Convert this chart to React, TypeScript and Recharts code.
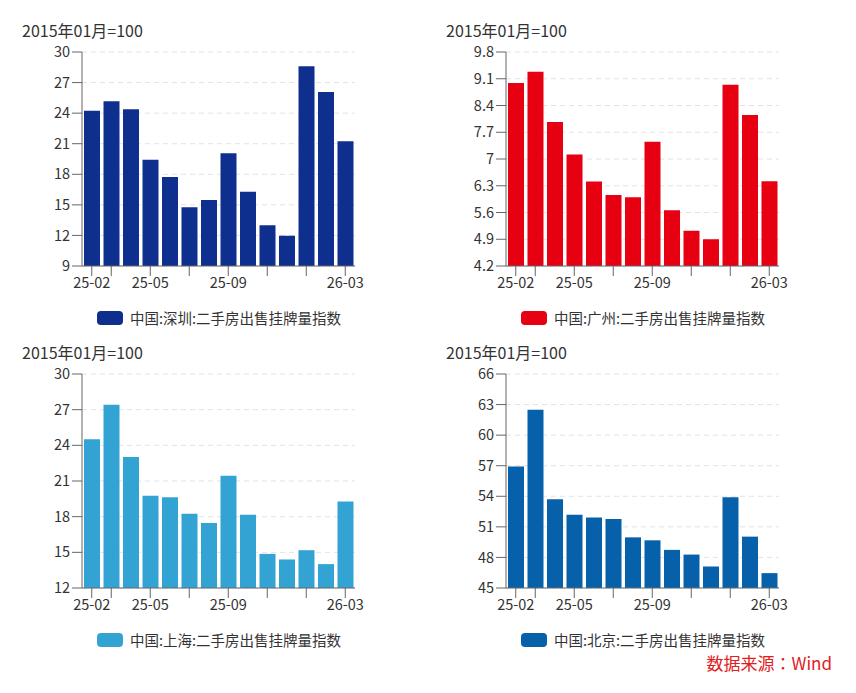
import React from 'react';
import { BarChart, Bar, XAxis, YAxis, CartesianGrid } from 'recharts';

const months = ['25-02', '25-03', '25-04', '25-05', '25-06', '25-07', '25-08', '25-09', '25-10', '25-11', '25-12', '26-01', '26-02', '26-03'];
const tickMonths = ['25-02', '25-03', '25-05', '25-07', '25-09', '25-11', '26-01', '26-03'];
const labelMonths = ['25-02', '25-05', '25-09', '26-03'];

const shenzhen = [24.24, 25.16, 24.37, 19.43, 17.73, 14.76, 15.48, 20.06, 16.29, 12.99, 11.98, 28.59, 26.07, 21.23];
const guangzhou = [8.99, 9.28, 7.97, 7.12, 6.41, 6.06, 6.0, 7.45, 5.66, 5.12, 4.9, 8.94, 8.15, 6.42];
const shanghai = [24.51, 27.41, 23.01, 19.75, 19.63, 18.24, 17.46, 21.45, 18.16, 14.87, 14.4, 15.18, 14.01, 19.27];
const beijing = [56.93, 62.49, 53.71, 52.18, 51.92, 51.76, 49.97, 49.68, 48.74, 48.28, 47.11, 53.91, 50.04, 46.46];

const szTicks = [9, 12, 15, 18, 21, 24, 27, 30];
const gzTicks = [4.2, 4.9, 5.6, 6.3, 7, 7.7, 8.4, 9.1, 9.8];
const shTicks = [12, 15, 18, 21, 24, 27, 30];
const bjTicks = [45, 48, 51, 54, 57, 60, 63, 66];

const titleText = '2015年01月=100';
const sourceText = '数据来源：Wind';

const FONT = "'Noto Sans CJK SC', 'Noto Sans', sans-serif";

const XTick = (props: any) => {
  const { x, y, payload } = props;
  if (!labelMonths.includes(payload.value)) return <g />;
  return (
    <text x={x} y={y} dy="0.71em" textAnchor="middle" fill="#333" fontSize={14.5} fontFamily={FONT}>
      {payload.value}
    </text>
  );
};

type PanelProps = {
  left: number;
  top: number;
  values: number[];
  ticks: number[];
  color: string;
  name: string;
};

const Panel = ({ left, top, values, ticks, color, name }: PanelProps) => {
  const data = months.map((m, i) => ({ month: m, value: values[i] }));
  return (
    <div style={{ position: 'absolute', left, top, width: 428, height: 322 }}>
      <div
        style={{
          position: 'absolute',
          left: 22,
          top: 20,
          fontSize: 16,
          lineHeight: '20px',
          color: '#333',
          fontFamily: FONT,
          whiteSpace: 'nowrap',
        }}
      >
        {titleText}
      </div>
      <BarChart
        width={428}
        height={322}
        data={data}
        margin={{ top: 52, right: 73, bottom: 26, left: 0 }}
      >
        <CartesianGrid vertical={false} stroke="#e3e3e3" strokeDasharray="5 4" />
        <XAxis
          dataKey="month"
          ticks={tickMonths}
          interval={0}
          height={30}
          tickSize={10}
          tickMargin={2}
          axisLine={{ stroke: '#666' }}
          tickLine={{ stroke: '#666' }}
          tick={<XTick />}
        />
        <YAxis
          domain={[ticks[0], ticks[ticks.length - 1]]}
          ticks={ticks}
          interval={0}
          width={82}
          tickSize={10}
          tickMargin={2}
          allowDataOverflow
          axisLine={{ stroke: '#666' }}
          tickLine={{ stroke: '#666' }}
          tick={{ fill: '#333', fontSize: 14.5, fontFamily: FONT }}
        />
        <Bar dataKey="value" fill={color} barSize={16} isAnimationActive={false} />
      </BarChart>
      <div
        style={{
          position: 'absolute',
          left: 97,
          top: 307,
          display: 'flex',
          alignItems: 'center',
          fontFamily: FONT,
          fontSize: 14.5,
          color: '#333',
          whiteSpace: 'nowrap',
        }}
      >
        <div style={{ width: 26, height: 14, borderRadius: 4, background: color, marginRight: 7 }} />
        <span>{name}</span>
      </div>
    </div>
  );
};

export default function App() {
  return (
    <div style={{ position: 'absolute', left: 0, top: 0, width: 856, height: 693, background: '#fff' }}>
      <Panel left={0} top={0} values={shenzhen} ticks={szTicks} color="#0e2f8e" name="中国:深圳:二手房出售挂牌量指数" />
      <Panel left={424} top={0} values={guangzhou} ticks={gzTicks} color="#e60012" name="中国:广州:二手房出售挂牌量指数" />
      <Panel left={0} top={322} values={shanghai} ticks={shTicks} color="#33a3d3" name="中国:上海:二手房出售挂牌量指数" />
      <Panel left={424} top={322} values={beijing} ticks={bjTicks} color="#0661aa" name="中国:北京:二手房出售挂牌量指数" />
      <div
        style={{
          position: 'absolute',
          right: 24,
          top: 652,
          fontSize: 17,
          lineHeight: '22px',
          color: '#e0201b',
          fontFamily: "'Noto Sans CJK JP', 'Noto Sans CJK SC', sans-serif",
          whiteSpace: 'nowrap',
        }}
      >
        {sourceText}
      </div>
    </div>
  );
}
